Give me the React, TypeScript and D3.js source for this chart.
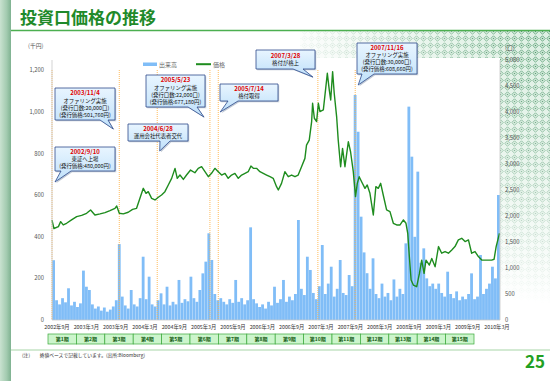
import React from 'react';
import * as d3 from 'd3';

// ---------- DATA ----------
const PRICE_DATES = [
  '2002-09-10','2002-09-22','2002-10-20','2002-11-03','2002-11-19','2002-12-10','2003-01-10','2003-02-11','2003-03-14','2003-04-14',
  '2003-05-09','2003-06-05','2003-07-07','2003-08-07','2003-09-07','2003-10-08','2003-10-19','2003-11-04','2003-11-29','2003-12-30',
  '2004-01-26','2004-02-20','2004-03-12','2004-04-02','2004-04-19','2004-05-03','2004-05-24','2004-06-14','2004-07-05','2004-07-25',
  '2004-08-15','2004-09-05','2004-09-26','2004-10-17','2004-10-31','2004-11-17','2004-12-08','2004-12-28','2005-01-22','2005-02-18',
  '2005-03-11','2005-04-01','2005-04-22','2005-05-13','2005-06-02','2005-06-23','2005-07-14','2005-08-04','2005-08-25','2005-09-14',
  '2005-10-05','2005-10-26','2005-11-16','2005-12-07','2005-12-28','2006-01-17','2006-02-03','2006-02-18','2006-03-10','2006-03-31',
  '2006-04-21','2006-05-12','2006-06-02','2006-06-22','2006-07-13','2006-07-24','2006-08-13','2006-09-03','2006-09-24','2006-10-15',
  '2006-11-05','2006-11-25','2006-12-16','2007-01-06','2007-01-16','2007-02-02','2007-02-17','2007-02-23','2007-03-06','2007-03-20',
  '2007-03-31','2007-04-10','2007-05-01','2007-05-17','2007-05-26','2007-06-07','2007-06-16','2007-06-28','2007-07-08','2007-07-23',
  '2007-08-02','2007-08-17','2007-08-29','2007-09-13','2007-10-04','2007-10-18','2007-11-04','2007-11-18','2007-11-29','2007-12-11',
  '2007-12-26','2008-01-16','2008-01-30','2008-02-16','2008-03-08','2008-03-24','2008-04-08','2008-04-23','2008-05-09','2008-05-30',
  '2008-06-20','2008-07-11','2008-08-01','2008-08-22','2008-09-12','2008-09-28','2008-10-09','2008-10-19','2008-10-30','2008-11-13',
  '2008-12-04','2008-12-21','2009-01-04','2009-01-19','2009-01-31','2009-02-21','2009-03-08','2009-03-29','2009-04-19','2009-05-09',
  '2009-05-30','2009-06-20','2009-07-11','2009-07-31','2009-08-21','2009-09-11','2009-10-02','2009-10-23','2009-11-12','2009-12-03',
  '2009-12-24','2010-01-14','2010-02-14','2010-03-17','2010-04-01','2010-04-14','2010-05-05'
];
const PRICE_VALUES = [
  480,440,449,473,457,465,481,497,503,513,
  529,505,510,516,526,537,548,513,510,518,
  532,537,585,633,609,617,585,577,590,601,
  617,649,681,729,681,697,676,697,721,708,
  729,737,713,689,705,729,713,697,705,681,
  697,705,681,697,705,713,740,729,729,713,
  705,697,689,681,641,625,657,713,689,697,
  689,697,737,777,841,865,954,1042,970,954,
  1042,1002,1010,1122,1186,1106,1058,1194,1090,978,
  865,737,825,737,857,809,713,593,657,689,
  665,633,649,609,505,641,633,657,601,529,
  521,465,457,457,481,465,417,305,192,168,
  160,224,288,224,288,264,296,256,353,321,
  329,321,337,353,385,393,377,385,321,329,
  305,288,288,288,292,353,417
];
// trading volume (口), sampled across the period from listing to the end of the chart
const VOLUME_VALUES = [
  1150,380,300,420,340,610,280,350,250,320,
  950,640,577,300,220,260,180,240,160,200,
  260,380,1460,450,280,220,577,300,260,420,
  1217,400,833,300,260,380,513,300,640,280,
  350,300,770,330,400,360,833,420,350,577,
  897,1122,1667,1154,500,380,420,350,300,400,
  330,770,350,420,300,380,1782,400,320,250,
  300,220,350,280,640,330,400,770,350,450,
  380,500,1923,600,480,1217,962,520,400,650,
  1442,500,700,1025,450,600,1154,520,480,865,
  650,4327,3620,1987,1300,900,600,1186,500,420,
  700,450,520,380,780,450,600,500,1474,4103,
  3141,1600,2853,1100,1378,800,650,700,600,700,
  520,450,929,500,420,550,380,450,400,500,
  897,400,450,1250,500,600,700,1025,800,2404
];
const X_LABELS = ['2002年9月','2003年3月','2003年9月','2004年3月','2004年9月','2005年3月','2005年9月','2006年3月','2006年9月','2007年3月','2007年9月','2008年3月','2008年9月','2009年3月','2009年9月','2010年3月'];
const PERIOD_LABELS = ['第1期','第2期','第3期','第4期','第5期','第6期','第7期','第8期','第9期','第10期','第11期','第12期','第13期','第14期','第15期'];
const LEFT_TICKS = [0,200,400,600,800,1000,1200];
const RIGHT_TICKS = [0,500,1000,1500,2000,2500,3000,3500,4000,4500,5000];
const EVENT_DATES = ['2002-09-10','2003-11-04','2004-06-28','2005-05-23','2005-07-14','2007-03-28','2007-11-16'];
const EVENT_TITLES = ['2002/9/10','2003/11/4','2004/6/28','2005/5/23','2005/7/14','2007/3/28','2007/11/16'];
const EVENT_NOTES = [
  ['東証へ上場','(発行価格:480,000円)'],
  ['オファリング実施','(発行口数:20,000口)','(発行価格:501,760円)'],
  ['運用会社代表者交代'],
  ['オファリング実施','(発行口数:22,000口)','(発行価格:677,180円)'],
  ['格付取得'],
  ['格付が格上'],
  ['オファリング実施','(発行口数:30,000口)','(発行価格:608,660円)'],
];

// ---------- LAYOUT ----------
const W = 550, H = 381;
const PL = 52, PR = 500, PT = 60, PB = 320;
// callout boxes: [x, y, w, h, tailBase1, tailBase2, tipDx, tipY]
const CALLOUTS = [
  [55, 147, 60, 24, 61, 71, 3, 182],
  [55, 88, 60, 32, 100, 108, -6, 129],
  [128, 124, 60, 17, 160, 170, 2.5, 151],
  [146, 75, 59, 32, 188, 197, -6, 117],
  [220, 84, 58, 17, 228, 238, 2, 112],
  [256, 50, 59, 19, 293, 303, -5, 77],
  [357, 43, 60, 31, 362, 374, 3, 85],
];
const FONT = "'Noto Sans CJK JP', 'Noto Sans', sans-serif";

export default function App() {
  const parse = d3.timeParse('%Y-%m-%d');
  const x = d3.scaleTime().domain([parse('2002-09-10')!, parse('2010-05-08')!]).range([PL, PR]);
  const yL = d3.scaleLinear().domain([0, 1250]).range([PB, PT]);
  const yR = d3.scaleLinear().domain([0, 5000]).range([PB, PT]);
  const xVol = d3.scaleBand<number>().domain(VOLUME_VALUES.map((_, i) => i)).range([PL, PR]).padding(0.06);
  const xLab = d3.scalePoint<string>().domain(X_LABELS).range([57, 497]);
  const xPer = d3.scaleBand<string>().domain(PERIOD_LABELS).range([48, 474]);

  const priceData: [Date, number][] = PRICE_DATES.map((d, i) => [parse(d)!, PRICE_VALUES[i]]);
  const line = d3.line<[Date, number]>().x(d => x(d[0])).y(d => yL(d[1]));

  const calloutPath = (c: number[], ex: number) => {
    const [bx, by, bw, bh, b1, b2, dx, ty] = c;
    const tx = ex + dx;
    return `M${bx},${by}H${bx + bw}V${by + bh}H${b2}L${tx},${ty}L${b1},${by + bh}H${bx}Z`;
  };

  return (
    <svg width={W} height={H} style={{ position: 'absolute', left: 0, top: 0, background: '#fff' }} fontFamily={FONT}>
      <defs>
        <pattern id="lattice" width="7" height="7" patternUnits="userSpaceOnUse">
          <path d="M3.5 0.8 L6.2 3.5 L3.5 6.2 L0.8 3.5Z" fill="none" stroke="#3f8f5e" strokeWidth="0.8" />
          <circle cx="3.5" cy="3.5" r="0.8" fill="#3f8f5e" />
        </pattern>
        <radialGradient id="fadeG" cx="560" cy="25" r="280" gradientUnits="userSpaceOnUse">
          <stop offset="0" stopColor="#fff" stopOpacity="1" />
          <stop offset="0.5" stopColor="#fff" stopOpacity="0.6" />
          <stop offset="1" stopColor="#fff" stopOpacity="0" />
        </radialGradient>
        <mask id="fadeMask">
          <rect x="0" y="0" width={W} height={H} fill="url(#fadeG)" />
        </mask>
        <linearGradient id="strip" x1="0" x2="1" y1="0" y2="0">
          <stop offset="0" stopColor="#c9e2d0" />
          <stop offset="0.6" stopColor="#a3cbb0" />
          <stop offset="1" stopColor="#7fb291" />
        </linearGradient>
        <linearGradient id="calloutFill" x1="0" x2="0" y1="0" y2="1">
          <stop offset="0" stopColor="#e8f5ff" />
          <stop offset="1" stopColor="#bfe0fa" />
        </linearGradient>
      </defs>

      {/* page decoration */}
      <g mask="url(#fadeMask)">
        <rect x={300} y={31} width={250} height={300} fill="#dcefe2" />
        <rect x={300} y={31} width={250} height={300} fill="url(#lattice)" />
      </g>
      <rect x={0} y={0} width={11} height={H} fill="url(#strip)" />
      <text x={20} y={24} fontSize={17} fontWeight="bold" fill="#1f8a2a">投資口価格の推移</text>
      <line x1={11} x2={W} y1={30.5} y2={30.5} stroke="#4caf50" strokeWidth={1.6} />

      {/* plot area */}
      <rect x={PL - 2} y={PT - 2} width={PR - PL + 2} height={PB - PT + 4} fill="#fff" />

      {/* volume bars */}
      <g fill="#80bdf7">
        {VOLUME_VALUES.map((v, i) => (
          <rect key={i} x={xVol(i)} y={yR(v)} width={xVol.bandwidth()} height={PB - yR(v)} />
        ))}
      </g>

      {/* event lines */}
      <g stroke="#ffb347" strokeWidth={0.9} strokeDasharray="1,1">
        {EVENT_DATES.map((d, i) => (
          <line key={i} x1={x(parse(d)!)} x2={x(parse(d)!)} y1={70} y2={PB} />
        ))}
      </g>

      {/* price line */}
      <path d={line(priceData) || ''} fill="none" stroke="#1e8c1e" strokeWidth={1.4} strokeLinejoin="round" />

      {/* axes */}
      <g stroke="#c8c8c8" strokeWidth={0.8}>
        <line x1={PL} x2={PL} y1={PT} y2={PB} />
        <line x1={PR} x2={PR} y1={PT} y2={PB} />
        <line x1={PL} x2={PR} y1={PB} y2={PB} />
      </g>
      <g fontSize={5.8} fill="#555">
        {LEFT_TICKS.map(t => (
          <text key={t} x={44} y={yL(t) + 2} textAnchor="end">{d3.format(',')(t)}</text>
        ))}
        {RIGHT_TICKS.map(t => (
          <text key={t} x={505} y={yR(t) + 2} textAnchor="start">{d3.format(',')(t)}</text>
        ))}
        <text x={28} y={48}>(千円)</text>
        <text x={505} y={50}>(口)</text>
      </g>
      <g fontSize={5.3} fill="#333">
        {X_LABELS.map(l => (
          <text key={l} x={xLab(l)} y={329} textAnchor="middle">{l}</text>
        ))}
      </g>

      {/* period boxes */}
      <g>
        {PERIOD_LABELS.map(p => (
          <g key={p}>
            <rect x={xPer(p)} y={334} width={xPer.bandwidth()} height={10} fill="#ccf5cc" stroke="#3aa83a" strokeWidth={0.7} />
            <text x={(xPer(p) || 0) + xPer.bandwidth() / 2} y={341.2} fontSize={5} fontWeight="bold" fill="#125a12" textAnchor="middle">{p}</text>
          </g>
        ))}
      </g>

      {/* legend */}
      <g fontSize={6} fill="#666">
        <rect x={143} y={62.5} width={14} height={3.5} fill="#80bdf7" />
        <text x={159} y={66.5}>出来高</text>
        <line x1={196} x2={211} y1={64.2} y2={64.2} stroke="#1e8c1e" strokeWidth={2} />
        <text x={213} y={66.5}>価格</text>
      </g>

      {/* callouts */}
      {CALLOUTS.map((c, i) => {
        const ex = x(parse(EVENT_DATES[i])!);
        const [bx, by, bw, bh] = c;
        const lines = [EVENT_TITLES[i], ...EVENT_NOTES[i]];
        const lh = lines.length >= 4 ? 7.2 : 7;
        const first = by + (bh - lines.length * lh) / 2 + lh * 0.8;
        return (
          <g key={i}>
            <path d={calloutPath(c, ex)} transform="translate(1.2,1.2)" fill="#8a9ab0" opacity={0.55} />
            <path d={calloutPath(c, ex)} fill="url(#calloutFill)" stroke="#2d4a8c" strokeWidth={0.8} />
            {lines.map((t, j) => (
              <text key={j} x={bx + bw / 2} y={first + j * lh} textAnchor="middle"
                fontSize={j === 0 ? 6 : 5.4} fontWeight={j === 0 ? 'bold' : 'normal'}
                fill={j === 0 ? '#e00000' : '#111'}>{t}</text>
            ))}
          </g>
        );
      })}

      {/* footer */}
      <line x1={11} x2={W} y1={350} y2={350} stroke="#c5e3c5" strokeWidth={1.5} />
      <text x={22} y={357} fontSize={4.8} fill="#333">(注)　　終値ベースで記載しています。(出所:Bloomberg)</text>
      <text x={545} y={368} fontSize={17} fontWeight="bold" fill="#22a022" textAnchor="end">25</text>
    </svg>
  );
}
